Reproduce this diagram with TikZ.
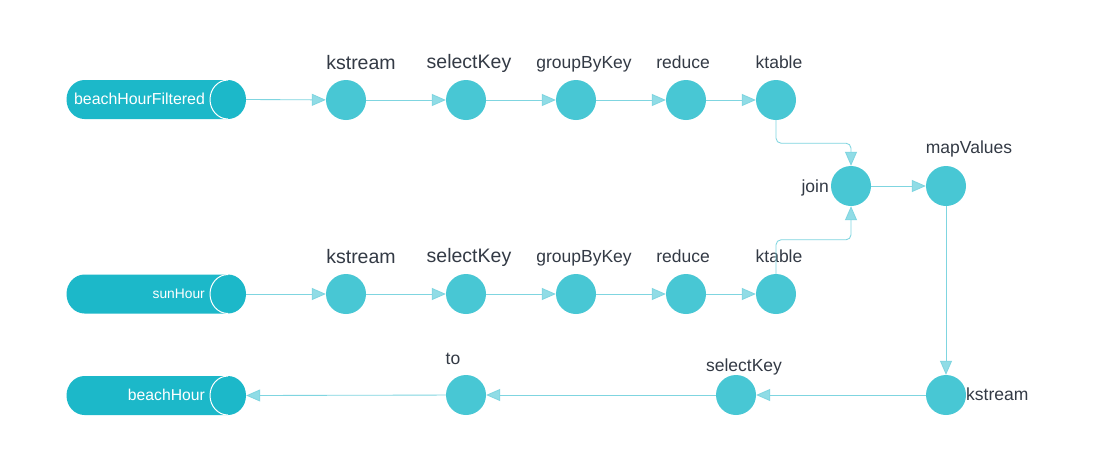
\documentclass[tikz,border=0pt]{standalone}
\usepackage{fontspec}
\setmainfont{Liberation Sans}
\usetikzlibrary{arrows.meta}
\definecolor{cylfill}{HTML}{1CB8C9}
\definecolor{opfill}{HTML}{48C7D4}
\definecolor{linec}{HTML}{7FD5E0}
\definecolor{arrowf}{HTML}{90DCE6}
\definecolor{txt}{HTML}{333A45}
\newcommand{\mycyl}[2]{% #1 = name, #2 = center y
  \fill[cylfill] (84.5,#2-19.5) -- (228,#2-19.5)
     arc[start angle=-90,end angle=90,x radius=18,y radius=19.5]
     -- (84.5,#2+19.5)
     arc[start angle=90,end angle=270,x radius=18,y radius=19.5] -- cycle;
  \draw[white,line width=1pt] (228,#2-19.5)
     arc[start angle=-90,end angle=-270,x radius=18,y radius=19.5];
  \node[minimum width=180pt,minimum height=39pt,inner sep=0pt] (#1) at (156,#2) {};
}
\begin{document}
\begin{tikzpicture}[x=1pt,y=-1pt,
  op/.style={circle,fill=opfill,minimum size=40pt,inner sep=0pt},
  arr/.style={draw=linec,line width=0.85pt,rounded corners=5pt,
    -{Triangle[length=14pt,width=12pt,fill=arrowf]}},
  lblbig/.style={text=txt,inner sep=0pt,anchor=base,font=\fontsize{19.5}{23}\selectfont},
  lbl/.style={text=txt,inner sep=0pt,anchor=base,font=\fontsize{17.5}{21}\selectfont},
  cyltxt/.style={text=white,inner sep=0pt,anchor=base}]
\path[use as bounding box,fill=white] (0,0) rectangle (1097,472);

% cylinders
\mycyl{cA}{99.5}
\mycyl{cB}{294}
\mycyl{cC}{395.5}
\node[cyltxt,font=\fontsize{15.9}{19}\selectfont] (tA) at (139.5,104) {beachHourFiltered};
\node[cyltxt,font=\fontsize{13.8}{16}\selectfont,anchor=base east] (tB) at (205,298.5) {sunHour};
\node[cyltxt,font=\fontsize{15.7}{19}\selectfont,anchor=base east] (tC) at (205,400) {beachHour};

% row 1
\node[op] (a1) at (346,100) {};
\node[op] (a2) at (466,100) {};
\node[op] (a3) at (576,100) {};
\node[op] (a4) at (686,100) {};
\node[op] (a5) at (776,100) {};
% row 2
\node[op] (b1) at (346,294) {};
\node[op] (b2) at (466,294) {};
\node[op] (b3) at (576,294) {};
\node[op] (b4) at (686,294) {};
\node[op] (b5) at (776,294) {};
% middle
\node[op] (join) at (851,186) {};
\node[op] (mv) at (946,186) {};
% row 3
\node[op] (ks) at (946,395) {};
\node[op] (sk) at (736,395) {};
\node[op] (to) at (466,395) {};

% labels
\node[lblbig] (la1) at (361,69) {kstream};
\node[lblbig] (la2) at (469,68) {selectKey};
\node[lbl] (la3) at (584,68.5) {groupByKey};
\node[lbl] (la4) at (683,68.5) {reduce};
\node[lbl] (la5) at (779,68.5) {ktable};
\node[lblbig] (lb1) at (361,263) {kstream};
\node[lblbig] (lb2) at (469,262) {selectKey};
\node[lbl] (lb3) at (584,262.5) {groupByKey};
\node[lbl] (lb4) at (683,262.5) {reduce};
\node[lbl] (lb5) at (779,262.5) {ktable};
\node[lbl,anchor=base east] (ljoin) at (829,192) {join};
\node[lbl] (lmv) at (969,153.5) {mapValues};
\node[lbl] (lto) at (453,364.5) {to};
\node[lbl] (lsk) at (744,371.5) {selectKey};
\node[lbl,anchor=base west] (lks) at (966,400) {kstream};

% connectors
\draw[arr] (cA.east) -- (a1);
\draw[arr] (a1) -- (a2);
\draw[arr] (a2) -- (a3);
\draw[arr] (a3) -- (a4);
\draw[arr] (a4) -- (a5);
\draw[arr] (cB.east) -- (b1);
\draw[arr] (b1) -- (b2);
\draw[arr] (b2) -- (b3);
\draw[arr] (b3) -- (b4);
\draw[arr] (b4) -- (b5);
\draw[arr] (a5.south) -- ++(0,23) -| (join.north);
\draw[arr] (b5.north) -- ++(0,-34) -| (join.south);
\draw[arr] (join) -- (mv);
\draw[arr] (mv.south) -- (ks.north);
\draw[arr] (ks) -- (sk);
\draw[arr] (sk) -- (to);
\draw[arr] (to) -- (cC.east);
\end{tikzpicture}
\end{document}
